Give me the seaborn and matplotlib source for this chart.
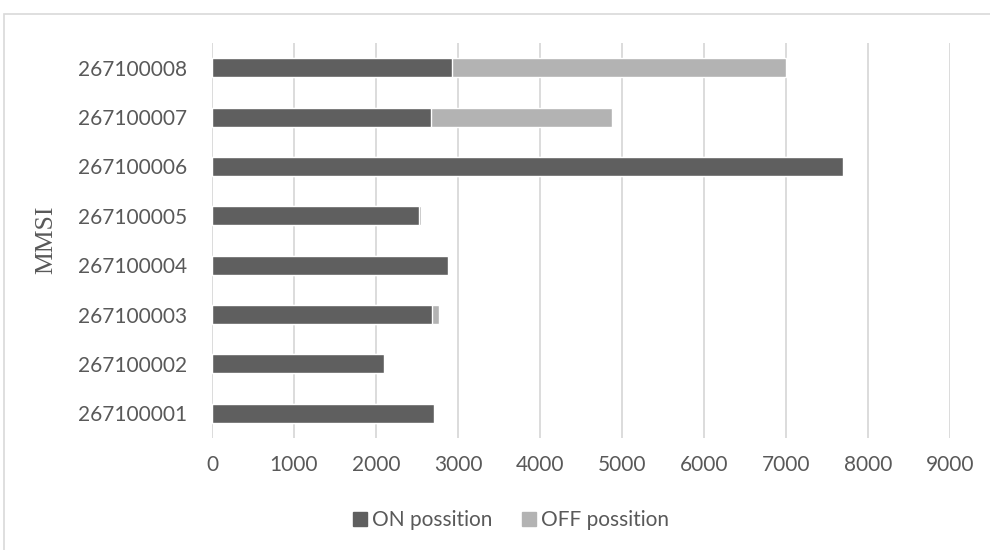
import pandas as pd
import matplotlib.pyplot as plt
import seaborn as sns
from matplotlib.patches import Patch, Rectangle

mmsi = ["267100008", "267100007", "267100006", "267100005",
        "267100004", "267100003", "267100002", "267100001"]
on_pos = [2927, 2674, 7690, 2528, 2873, 2683, 2101, 2702]
off_pos = [4073, 2200, 0, 15, 15, 90, 0, 10]

df = pd.DataFrame({"MMSI": mmsi, "ON": on_pos, "OFF": off_pos})
df["Total"] = df["ON"] + df["OFF"]

dark = "#5f5f5f"
light = "#b3b3b3"
text_col = "#595959"

sns.set_style("white")
plt.rcParams["font.family"] = ["Lato", "DejaVu Sans"]

fig = plt.figure(figsize=(9.9, 5.5), dpi=100)
ax = fig.add_axes([212 / 990, 1 - 438 / 550, 738 / 990, 395 / 550])

# light bar = total, dark bar = ON drawn over it
sns.barplot(x="Total", y="MMSI", data=df, order=mmsi, color=light,
            orient="h", width=0.385, ax=ax, saturation=1)
sns.barplot(x="ON", y="MMSI", data=df, order=mmsi, color=dark,
            orient="h", width=0.385, ax=ax, saturation=1)

ax.set_xlim(0, 9000)
ax.set_xticks(range(0, 9001, 1000))
ax.xaxis.grid(True, color="#d9d9d9", linewidth=1.3)
ax.set_axisbelow(True)
for s in ax.spines.values():
    s.set_visible(False)
ax.tick_params(axis="both", length=0, labelsize=15, colors=text_col)
ax.tick_params(axis="x", pad=12)
ax.tick_params(axis="y", pad=18)
ax.set_xlabel("")
ax.set_ylabel("")
fig.text(46 / 990, 1 - 240 / 550, "MMSI", family=["Liberation Serif"],
         fontsize=18.5, color=text_col, rotation=90, ha="center", va="center")

handles = [Patch(color=dark, label="ON possition"),
           Patch(color=light, label="OFF possition")]
fig.legend(handles=handles, loc="center", bbox_to_anchor=(511 / 990, 1 - 520 / 550),
           ncol=2, frameon=False, fontsize=15, handlelength=0.67, handleheight=0.67,
           handletextpad=0.25, columnspacing=1.4, labelcolor=text_col)

fig.patches.append(Rectangle((4 / 990, -0.1), 1.1, 0.1 + 536 / 550,
                             transform=fig.transFigure, fill=False,
                             edgecolor="#d9d9d9", linewidth=1.2))

fig.savefig("out.png", dpi=100)
